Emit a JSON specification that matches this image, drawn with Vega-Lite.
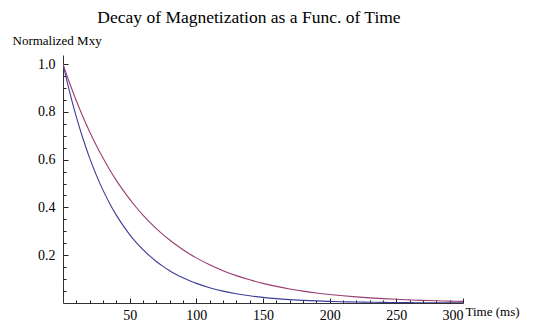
{
  "$schema": "https://vega.github.io/schema/vega-lite/v6.json",
  "autosize": "none",
  "width": 400,
  "height": 248,
  "padding": {"left": 63, "top": 55, "right": 89, "bottom": 20},
  "background": "white",
  "config": {
    "font": "Liberation Serif",
    "view": {"stroke": null},
    "title": {"font": "Liberation Serif", "fontSize": 17.5, "fontWeight": "normal", "color": "black"},
    "axis": {"grid": false, "labelFont": "Liberation Serif", "titleFont": "Liberation Serif", "labelFontSize": 14, "labelColor": "black", "titleColor": "black", "titleFontWeight": "normal", "titleFontSize": 13, "domainColor": "#333333", "tickColor": "#222222"}
  },
  "title": {"text": "Decay of Magnetization as a Func. of Time", "font": "Liberation Serif", "fontSize": 17.5, "fontWeight": "normal", "color": "black", "anchor": "middle", "dx": -14, "offset": 8},
  "datasets": {
    "curves": [
      {"t": 0, "m": 1.0, "s": "a"}, {"t": 5, "m": 0.8825, "s": "a"}, {"t": 10, "m": 0.7788, "s": "a"}, {"t": 15, "m": 0.6873, "s": "a"}, {"t": 20, "m": 0.6065, "s": "a"}, {"t": 25, "m": 0.5353, "s": "a"}, {"t": 30, "m": 0.4724, "s": "a"}, {"t": 35, "m": 0.4169, "s": "a"}, {"t": 40, "m": 0.3679, "s": "a"}, {"t": 45, "m": 0.3247, "s": "a"}, {"t": 50, "m": 0.2865, "s": "a"}, {"t": 55, "m": 0.2528, "s": "a"}, {"t": 60, "m": 0.2231, "s": "a"}, {"t": 65, "m": 0.1969, "s": "a"}, {"t": 70, "m": 0.1738, "s": "a"}, {"t": 75, "m": 0.1534, "s": "a"}, {"t": 80, "m": 0.1353, "s": "a"}, {"t": 85, "m": 0.1194, "s": "a"}, {"t": 90, "m": 0.1054, "s": "a"}, {"t": 95, "m": 0.093, "s": "a"}, {"t": 100, "m": 0.0821, "s": "a"}, {"t": 110, "m": 0.0639, "s": "a"}, {"t": 120, "m": 0.0498, "s": "a"}, {"t": 130, "m": 0.0388, "s": "a"}, {"t": 140, "m": 0.0302, "s": "a"}, {"t": 150, "m": 0.0235, "s": "a"}, {"t": 160, "m": 0.0183, "s": "a"}, {"t": 170, "m": 0.0143, "s": "a"}, {"t": 180, "m": 0.0111, "s": "a"}, {"t": 190, "m": 0.0087, "s": "a"}, {"t": 200, "m": 0.0067, "s": "a"}, {"t": 210, "m": 0.0052, "s": "a"}, {"t": 220, "m": 0.0041, "s": "a"}, {"t": 230, "m": 0.0032, "s": "a"}, {"t": 240, "m": 0.0025, "s": "a"}, {"t": 250, "m": 0.0019, "s": "a"}, {"t": 260, "m": 0.0015, "s": "a"}, {"t": 270, "m": 0.0012, "s": "a"}, {"t": 280, "m": 0.0009, "s": "a"}, {"t": 290, "m": 0.0007, "s": "a"}, {"t": 300, "m": 0.0006, "s": "a"},
      {"t": 0, "m": 1.0, "s": "b"}, {"t": 5, "m": 0.92, "s": "b"}, {"t": 10, "m": 0.8465, "s": "b"}, {"t": 15, "m": 0.7788, "s": "b"}, {"t": 20, "m": 0.7165, "s": "b"}, {"t": 25, "m": 0.6592, "s": "b"}, {"t": 30, "m": 0.6065, "s": "b"}, {"t": 35, "m": 0.558, "s": "b"}, {"t": 40, "m": 0.5134, "s": "b"}, {"t": 45, "m": 0.4724, "s": "b"}, {"t": 50, "m": 0.4346, "s": "b"}, {"t": 55, "m": 0.3998, "s": "b"}, {"t": 60, "m": 0.3679, "s": "b"}, {"t": 65, "m": 0.3385, "s": "b"}, {"t": 70, "m": 0.3114, "s": "b"}, {"t": 75, "m": 0.2865, "s": "b"}, {"t": 80, "m": 0.2636, "s": "b"}, {"t": 85, "m": 0.2425, "s": "b"}, {"t": 90, "m": 0.2231, "s": "b"}, {"t": 95, "m": 0.2053, "s": "b"}, {"t": 100, "m": 0.1889, "s": "b"}, {"t": 110, "m": 0.1599, "s": "b"}, {"t": 120, "m": 0.1353, "s": "b"}, {"t": 130, "m": 0.1146, "s": "b"}, {"t": 140, "m": 0.097, "s": "b"}, {"t": 150, "m": 0.0821, "s": "b"}, {"t": 160, "m": 0.0695, "s": "b"}, {"t": 170, "m": 0.0588, "s": "b"}, {"t": 180, "m": 0.0498, "s": "b"}, {"t": 190, "m": 0.0421, "s": "b"}, {"t": 200, "m": 0.0357, "s": "b"}, {"t": 210, "m": 0.0302, "s": "b"}, {"t": 220, "m": 0.0256, "s": "b"}, {"t": 230, "m": 0.0216, "s": "b"}, {"t": 240, "m": 0.0183, "s": "b"}, {"t": 250, "m": 0.0155, "s": "b"}, {"t": 260, "m": 0.0131, "s": "b"}, {"t": 270, "m": 0.0111, "s": "b"}, {"t": 280, "m": 0.0094, "s": "b"}, {"t": 290, "m": 0.008, "s": "b"}, {"t": 300, "m": 0.0067, "s": "b"}
    ]
  },
  "data": {"name": "curves"},
  "resolve": {"axis": {"x": "independent", "y": "independent"}},
  "layer": [
    {
      "transform": [{"filter": "datum.s === 'a'"}],
      "mark": {"type": "line", "color": "#3d3d99", "strokeWidth": 1.1, "interpolate": "monotone", "clip": true},
      "encoding": {
        "x": {"field": "t", "type": "quantitative", "scale": {"domain": [0, 300], "nice": false, "zero": false},
          "axis": {"orient": "bottom", "title": "Time (ms)", "titleAngle": 0, "titleAlign": "left", "titleBaseline": "alphabetic", "titleX": 402, "titleY": 12, "values": [50, 100, 150, 200, 250, 300], "tickSize": -5, "labelPadding": 10, "labelBaseline": "top", "domainWidth": 1}},
        "y": {"field": "m", "type": "quantitative", "scale": {"domain": [0, 1.038], "nice": false},
          "axis": {"orient": "left", "title": "Normalized  Mxy", "titleAngle": 0, "titleAlign": "left", "titleBaseline": "alphabetic", "titleX": -51, "titleY": -11, "values": [0.2, 0.4, 0.6, 0.8, 1.0], "format": ".1f", "tickSize": -5, "labelPadding": 13, "domainWidth": 1}}
      }
    },
    {
      "transform": [{"filter": "datum.s === 'b'"}],
      "mark": {"type": "line", "color": "#993d71", "strokeWidth": 1.1, "interpolate": "monotone", "clip": true},
      "encoding": {
        "x": {"field": "t", "type": "quantitative",
          "axis": {"orient": "bottom", "title": null, "labels": false, "domain": false, "values": [10, 20, 30, 40, 60, 70, 80, 90, 110, 120, 130, 140, 160, 170, 180, 190, 210, 220, 230, 240, 260, 270, 280, 290], "tickSize": -3}},
        "y": {"field": "m", "type": "quantitative",
          "axis": {"orient": "left", "title": null, "labels": false, "domain": false, "values": [0.05, 0.1, 0.15, 0.25, 0.3, 0.35, 0.45, 0.5, 0.55, 0.65, 0.7, 0.75, 0.85, 0.9, 0.95], "tickSize": -3}}
      }
    }
  ]
}
